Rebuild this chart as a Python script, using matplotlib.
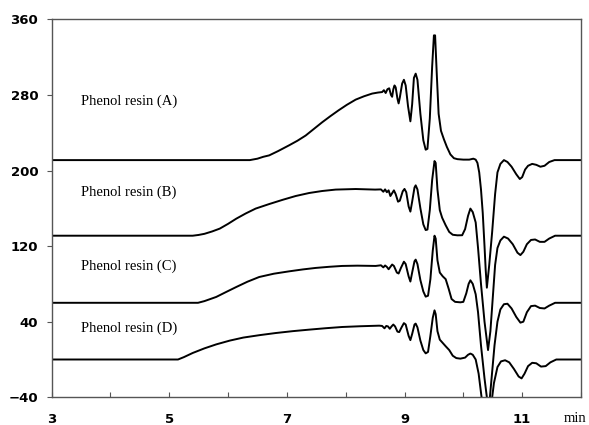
import matplotlib
matplotlib.use("Agg")
import matplotlib.pyplot as plt

# ---- data (retention time in min, detector signal) ----
a_x = [3.0, 6.37, 6.50, 6.60, 6.70, 6.85, 7.04, 7.18, 7.32, 7.46, 7.60, 7.74, 7.88, 8.02,
       8.17, 8.31, 8.45, 8.55, 8.62, 8.65, 8.68, 8.71, 8.74, 8.77, 8.79, 8.81, 8.83, 8.85,
       8.88, 8.90, 8.92, 8.96, 8.99, 9.02, 9.06, 9.10, 9.13, 9.16, 9.19, 9.22, 9.27, 9.32,
       9.36, 9.39, 9.43, 9.47, 9.50, 9.52, 9.55, 9.58, 9.62, 9.67, 9.72, 9.78, 9.84, 9.90,
       10.00, 10.10, 10.17, 10.21, 10.24, 10.27, 10.30, 10.33, 10.36, 10.38, 10.40, 10.44,
       10.49, 10.54, 10.58, 10.63, 10.69, 10.75, 10.82, 10.90, 10.96, 11.00, 11.05, 11.10,
       11.17, 11.24, 11.31, 11.38, 11.46, 11.55, 12.0]
a_y = [211, 211, 212.5, 214.5, 216, 220.5, 226.7, 231.5, 237, 244, 251, 257.5, 263.7, 269.5,
       275, 278.5, 281.4, 282.5, 283, 285, 282, 286, 287, 280, 278, 286, 290, 288,
       276, 271, 277, 292, 296, 290, 268, 252, 270, 298, 302.5, 296, 260, 232,
       222, 223, 255, 310, 343, 343, 300, 260, 242, 233, 225, 217, 213, 212,
       211.5, 211.5, 212.5, 211.5, 208, 198, 180, 155, 120, 95, 76, 100,
       135, 175, 198, 207, 211, 209, 204, 196, 191, 193, 201, 205,
       207, 206, 204, 205, 209, 211, 211]

b_x = [3.0, 5.40, 5.50, 5.60, 5.73, 5.86, 6.00, 6.14, 6.30, 6.47, 6.70, 6.93, 7.15, 7.38,
       7.60, 7.83, 8.17, 8.50, 8.60, 8.64, 8.67, 8.70, 8.73, 8.76, 8.79, 8.82, 8.85, 8.89,
       8.92, 8.97, 9.00, 9.03, 9.07, 9.10, 9.13, 9.17, 9.19, 9.22, 9.27, 9.32, 9.36, 9.39,
       9.43, 9.47, 9.51, 9.53, 9.56, 9.60, 9.64, 9.70, 9.76, 9.82, 9.90, 9.98, 10.03, 10.08,
       10.12, 10.16, 10.21, 10.25, 10.30, 10.36, 10.42, 10.46, 10.50, 10.54, 10.58, 10.63,
       10.69, 10.76, 10.84, 10.92, 10.97, 11.02, 11.08, 11.15, 11.22, 11.30, 11.38, 11.46,
       11.56, 12.0]
b_y = [131, 131, 131.8, 133, 135.5, 138.5, 143.5, 149, 154.5, 159.7, 164.5, 169, 173, 176.2,
       178.3, 179.8, 180.4, 179.8, 180, 177.5, 180, 177, 179, 173, 176, 179, 175, 167,
       168, 178, 180.5, 177, 162, 156.5, 167, 182, 184.3, 180, 160, 143, 137, 137.5,
       158, 190, 210, 208, 180, 158, 150, 142, 135, 132, 131.4, 131.5, 138, 152,
       159.7, 156, 145, 118, 80, 40, 10, 30, 65, 100, 118, 126,
       130, 128, 122, 113, 110.5, 114, 122, 126.5, 127, 124.5, 124.5, 128,
       131, 131]

c_x = [3.0, 5.49, 5.60, 5.70, 5.80, 5.97, 6.14, 6.33, 6.53, 6.78, 7.04, 7.27, 7.49, 7.72,
       7.94, 8.20, 8.51, 8.60, 8.64, 8.67, 8.70, 8.73, 8.76, 8.79, 8.82, 8.87, 8.90, 8.94,
       8.99, 9.02, 9.07, 9.10, 9.13, 9.17, 9.19, 9.22, 9.27, 9.32, 9.36, 9.40, 9.44, 9.48,
       9.51, 9.53, 9.56, 9.60, 9.65, 9.70, 9.75, 9.80, 9.86, 9.95, 10.00, 10.05, 10.09, 10.12,
       10.16, 10.21, 10.25, 10.30, 10.36, 10.43, 10.48, 10.53, 10.58, 10.63, 10.69, 10.75,
       10.82, 10.90, 10.97, 11.02, 11.08, 11.15, 11.22, 11.30, 11.38, 11.46, 11.56, 12.0]
c_y = [60, 60, 61.8, 64, 66.2, 71.5, 76.7, 82.3, 87.3, 90.8, 93.3, 95.3, 96.9, 98.1,
       99, 99.3, 99, 99.7, 97.5, 99.5, 98, 95.5, 98, 100.5, 99, 92, 91, 97,
       103.5, 101, 88, 82.5, 92, 104, 105.7, 101, 84, 72, 66.5, 67.5, 85, 115,
       131, 128, 105, 92, 88, 85, 75, 64, 61, 60.5, 61, 70, 80, 83.8,
       80, 69, 50, 15, -20, -55, -20, 15, 40, 53, 58.5, 59,
       54, 45, 39, 40, 50, 56.5, 57, 54.5, 54, 57, 60, 60]

d_x = [3.0, 5.15, 5.25, 5.40, 5.60, 5.80, 6.03, 6.26, 6.54, 6.81, 7.10, 7.38, 7.66, 7.94,
       8.25, 8.57, 8.62, 8.66, 8.69, 8.72, 8.75, 8.78, 8.81, 8.84, 8.88, 8.91, 8.95, 8.99,
       9.02, 9.07, 9.10, 9.13, 9.17, 9.19, 9.22, 9.27, 9.32, 9.36, 9.40, 9.44, 9.48, 9.51,
       9.53, 9.56, 9.60, 9.65, 9.70, 9.76, 9.82, 9.88, 9.95, 10.03, 10.08, 10.12, 10.16, 10.21,
       10.26, 10.32, 10.40, 10.46, 10.52, 10.58, 10.64, 10.71, 10.78, 10.86, 10.94, 10.99,
       11.04, 11.10, 11.17, 11.24, 11.32, 11.40, 11.48, 11.58, 12.0]
d_y = [0, 0, 2.5, 6.9, 11.8, 16, 20, 23.2, 25.8, 28, 30, 31.6, 33.1, 34.4,
       35.2, 35.8, 35.5, 33, 35.5, 35, 32.5, 35, 37, 35, 29.5, 29, 34, 38.5,
       37, 25, 20.5, 27, 37, 38, 34, 20, 10, 6.5, 8, 25, 44, 52,
       48, 30, 21, 17.5, 14, 10, 4, 1.5, 0.9, 2, 5, 6.3, 5, 0,
       -15, -45, -95, -55, -25, -8, -2, -0.8, -3, -10, -18, -20,
       -15, -7, -3.5, -4, -7.5, -7, -3, 0, 0]

labels = ["Phenol resin (A)", "Phenol resin (B)", "Phenol resin (C)", "Phenol resin (D)"]
label_y = [273, 177, 98.6, 33.5]
x_ticks = [3, 4, 5, 6, 7, 8, 9, 10, 11, 12]
x_ticklabels = ["3", "", "5", "", "7", "", "9", "", "11", ""]
y_ticks = [-40, 40, 120, 200, 280, 360]

fig = plt.figure(figsize=(5.89, 4.25), dpi=100)
ax = fig.add_axes([51.5 / 589, 1 - 397.3 / 425, (581 - 51.5) / 589, (397.3 - 19.3) / 425])

for xs, ys in [(a_x, a_y), (b_x, b_y), (c_x, c_y), (d_x, d_y)]:
    ax.plot(xs, ys, color="black", lw=1.4, solid_joinstyle="round")

for t, yy in zip(labels, label_y):
    ax.text(3.5, yy, t, family="Liberation Serif", fontsize=10.5, va="center", ha="left")

ax.set_xlim(3, 11.97)
ax.set_ylim(-40, 360)
ax.set_xticks(x_ticks)
ax.set_xticklabels(x_ticklabels)
ax.set_yticks(y_ticks)
ax.tick_params(axis="x", direction="in", length=3.3, pad=11, color="#555555")
ax.tick_params(axis="y", direction="out", length=3.5, pad=6, color="#555555")
for lab in ax.get_xticklabels() + ax.get_yticklabels():
    lab.set_fontfamily("DejaVu Sans")
    lab.set_fontweight("bold")
    lab.set_fontsize(9.5)
for s in ax.spines.values():
    s.set_color("#555555")
    s.set_linewidth(1.0)

fig.text(564 / 589, 1 - 418 / 425, "min", family="Liberation Serif", fontsize=10.5,
         ha="left", va="center")

fig.savefig("out.png", dpi=100)
